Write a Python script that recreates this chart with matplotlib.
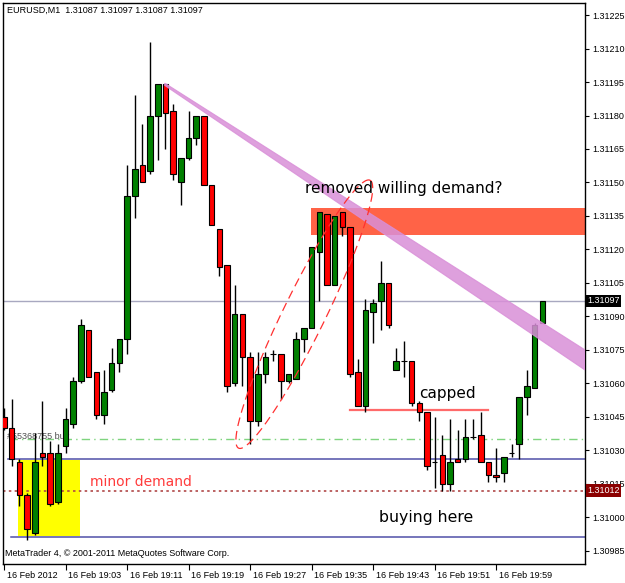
import matplotlib
matplotlib.use("Agg")
import matplotlib.pyplot as plt
import numpy as np
from matplotlib.patches import Rectangle, Polygon
from matplotlib.transforms import blended_transform_factory, ScaledTranslation

# ---------------- data ----------------
chart_title = "EURUSD,M1  1.31087 1.31097 1.31087 1.31097"
copyright_text = "MetaTrader 4, \u00a9 2001-2011 MetaQuotes Software Corp."

opens = [1.31045, 1.31040, 1.31025, 1.31010, 1.30993, 1.31029, 1.31029, 1.31007, 1.31032, 1.31042,
         1.31061, 1.31084, 1.31065, 1.31046, 1.31057, 1.31069, 1.31080, 1.31144, 1.31158, 1.31155,
         1.31180, 1.31194, 1.31182, 1.31150, 1.31161, 1.31170, 1.31180, 1.31149, 1.31129, 1.31113,
         1.31060, 1.31091, 1.31072, 1.31043, 1.31064, 1.31073, 1.31073, 1.31061, 1.31062, 1.31080,
         1.31085, 1.31119, 1.31136, 1.31104, 1.31137, 1.31130, 1.31065, 1.31050, 1.31092, 1.31097,
         1.31105, 1.31066, 1.31070, 1.31070, 1.31051, 1.31047, 1.31025, 1.31028, 1.31015, 1.31026,
         1.31026, 1.31036, 1.31037, 1.31025, 1.31019, 1.31020, 1.31029, 1.31033, 1.31054, 1.31058,
         1.31087]
highs = [1.31049, 1.31053, 1.31026, 1.31011, 1.31038, 1.31052, 1.31034, 1.31033, 1.31049, 1.31063,
         1.31089, 1.31084, 1.31065, 1.31066, 1.31076, 1.31080, 1.31158, 1.31189, 1.31176, 1.31213,
         1.31194, 1.31194, 1.31185, 1.31161, 1.31182, 1.31180, 1.31180, 1.31149, 1.31129, 1.31113,
         1.31104, 1.31091, 1.31074, 1.31074, 1.31074, 1.31075, 1.31073, 1.31064, 1.31083, 1.31085,
         1.31121, 1.31137, 1.31136, 1.31135, 1.31137, 1.31130, 1.31071, 1.31098, 1.31098, 1.31115,
         1.31105, 1.31076, 1.31079, 1.31070, 1.31052, 1.31047, 1.31045, 1.31037, 1.31044, 1.31039,
         1.31044, 1.31044, 1.31047, 1.31025, 1.31031, 1.31027, 1.31033, 1.31054, 1.31066, 1.31087,
         1.31097]
lows = [1.31039, 1.31023, 1.31005, 1.30990, 1.30992, 1.31023, 1.31005, 1.31006, 1.31029, 1.31040,
        1.31060, 1.31063, 1.31044, 1.31042, 1.31056, 1.31065, 1.31073, 1.31134, 1.31150, 1.31154,
        1.31160, 1.31165, 1.31151, 1.31140, 1.31160, 1.31167, 1.31149, 1.31131, 1.31108, 1.31056,
        1.31059, 1.31059, 1.31033, 1.31041, 1.31060, 1.31070, 1.31053, 1.31060, 1.31062, 1.31074,
        1.31085, 1.31097, 1.31104, 1.31104, 1.31126, 1.31063, 1.31050, 1.31047, 1.31078, 1.31084,
        1.31085, 1.31066, 1.31063, 1.31050, 1.31043, 1.31021, 1.31013, 1.31012, 1.31012, 1.31025,
        1.31025, 1.31035, 1.31025, 1.31016, 1.31016, 1.31016, 1.31027, 1.31026, 1.31046, 1.31058,
        1.31087]
closes = [1.31040, 1.31026, 1.31010, 1.30995, 1.31025, 1.31027, 1.31006, 1.31029, 1.31044, 1.31061,
          1.31086, 1.31063, 1.31046, 1.31056, 1.31069, 1.31080, 1.31144, 1.31156, 1.31150, 1.31180,
          1.31194, 1.31181, 1.31154, 1.31161, 1.31170, 1.31180, 1.31149, 1.31131, 1.31112, 1.31059,
          1.31091, 1.31072, 1.31043, 1.31064, 1.31072, 1.31073, 1.31061, 1.31064, 1.31080, 1.31085,
          1.31121, 1.31137, 1.31104, 1.31135, 1.31130, 1.31064, 1.31050, 1.31093, 1.31096, 1.31105,
          1.31086, 1.31070, 1.31070, 1.31051, 1.31047, 1.31023, 1.31025, 1.31015, 1.31025, 1.31025,
          1.31036, 1.31036, 1.31025, 1.31019, 1.31018, 1.31027, 1.31029, 1.31054, 1.31059, 1.31086,
          1.31097]

time_tick_bars = [0, 8, 16, 24, 32, 40, 48, 56, 64]
time_tick_labels = ["16 Feb 2012", "16 Feb 19:03", "16 Feb 19:11", "16 Feb 19:19", "16 Feb 19:27",
                    "16 Feb 19:35", "16 Feb 19:43", "16 Feb 19:51", "16 Feb 19:59"]
price_ticks = [1.30985, 1.31000, 1.31015, 1.31030, 1.31045, 1.31060, 1.31075, 1.31090, 1.31105,
               1.31120, 1.31135, 1.31150, 1.31165, 1.31180, 1.31195, 1.31210, 1.31225]

bid_price = 1.31097
pending_price = 1.31012
order_price = 1.31035
order_label = "#55368755 buy"
support_upper = 1.31026
support_lower = 1.30991
capped_price = 1.31048
capped_bars = (45.0, 62.9)
supply_zone = (1.311265, 1.311386)
supply_start_bar = 39.9
demand_box_bars = (1.82, 9.88)
demand_box_prices = (1.309917, 1.310259)
trend_start = (20.9, 1.311945, 1.311935)
trend_end = (75.55, 1.310750, 1.310660)
ellipse_ends = ((30.5, 1.31031), (47.6, 1.31151))

notes = [
    ("removed willing demand?", 52.0, 1.311475, "black", 11),
    ("capped", 57.7, 1.310553, "black", 11),
    ("minor demand", 17.8, 1.310159, "#ff3b3b", 10),
    ("buying here", 54.9, 1.309998, "black", 11.3),
]

# ---------------- figure ----------------
W, H, DPI = 625, 583, 100
fig = plt.figure(figsize=(W / DPI, H / DPI), dpi=DPI, facecolor="white")
L, R, T, B = 3, 585, 3, 564
ax = fig.add_axes([L / W, 1 - B / H, (R - L) / W, (B - T) / H])
ax.set_facecolor("white")
ax.set_xlim(-0.13, 75.55)
ax.set_ylim(1.309791, 1.312304)

# horizontal lines
ax.axhline(bid_price, color="#a8a8c0", lw=1.0, zorder=1)
ax.axhline(pending_price, color="#b04848", lw=1.2, ls=(0, (1.5, 2.0)), zorder=1)
ax.plot([0.6, 75.55], [order_price, order_price], color="#7fd47f", lw=1.0,
        ls=(0, (6, 3, 1, 3)), zorder=1)
ax.plot([0.5, 75.55], [support_upper, support_upper], color="#5050a8", lw=1.1, zorder=1)
ax.plot([0.9, 75.55], [support_lower, support_lower], color="#5050a8", lw=1.1, zorder=1)

# zones
ax.add_patch(Rectangle((demand_box_bars[0], demand_box_prices[0]),
                       demand_box_bars[1] - demand_box_bars[0],
                       demand_box_prices[1] - demand_box_prices[0],
                       facecolor="#ffff00", edgecolor="none", zorder=0.5))
ax.add_patch(Rectangle((supply_start_bar, supply_zone[0]), 80, supply_zone[1] - supply_zone[0],
                       facecolor="#ff6347", edgecolor="none", zorder=0.5))

# order label
ax.text(0.007, order_price + 0.0000125, order_label,
        transform=blended_transform_factory(ax.transAxes, ax.transData),
        ha="left", va="center", color="#505050", zorder=1.5,
        fontfamily="Liberation Sans", fontsize=6.5)

# capped line
ax.plot(capped_bars, [capped_price, capped_price], color="#ff6a6a", lw=1.6, zorder=1.2)

# candles
x = np.arange(len(opens))
o = np.array(opens); c = np.array(closes); h = np.array(highs); lo = np.array(lows)
ax.vlines(x, lo, h, color="black", lw=1.0, zorder=2)
up = c >= o
bw = 0.72
ax.bar(x[up], c[up] - o[up], bottom=o[up], width=bw, color="#008000", edgecolor="black", lw=0.8, zorder=3)
ax.bar(x[~up], o[~up] - c[~up], bottom=c[~up], width=bw, color="#ff0000", edgecolor="black", lw=0.8, zorder=3)

# purple trend band
poly = Polygon([(trend_start[0], trend_start[1]), (trend_end[0], trend_end[1]),
                (trend_end[0], trend_end[2]), (trend_start[0], trend_start[2])],
               closed=True, facecolor="#d98fd8", edgecolor="#d98fd8", lw=0.8, alpha=0.85, zorder=4)
ax.add_patch(poly)

# dashed ellipse (computed in display space so it keeps its shape)
fig.canvas.draw()
p1 = ax.transData.transform(ellipse_ends[0])
p2 = ax.transData.transform(ellipse_ends[1])
ctr = (p1 + p2) / 2
vec = p2 - p1
a = np.linalg.norm(vec) / 2
bminor = 21.0
ang = np.arctan2(vec[1], vec[0])
t = np.linspace(0, 2 * np.pi, 300)
ex = a * np.cos(t); ey = bminor * np.sin(t)
px = ctr[0] + ex * np.cos(ang) - ey * np.sin(ang)
py = ctr[1] + ex * np.sin(ang) + ey * np.cos(ang)
dat = ax.transData.inverted().transform(np.column_stack([px, py]))
ax.plot(dat[:, 0], dat[:, 1], color="#ff3030", lw=0.9, ls=(0, (7, 4)), zorder=5)

# annotations
for txt, bx, py_, col, fs in notes:
    ax.text(bx, py_, txt, ha="center", va="center", color=col, fontsize=fs,
            fontfamily="DejaVu Sans", zorder=6)

# title and copyright
ax.text(0.007, 0.9875, chart_title, transform=ax.transAxes, ha="left", va="center",
        color="black", zorder=6, fontfamily="Liberation Sans", fontsize=6.5)
ax.text(0.004, 0.019, copyright_text, transform=ax.transAxes, ha="left", va="center",
        color="black", zorder=6, fontfamily="Liberation Sans", fontsize=6.5)

# axes styling
for s in ax.spines.values():
    s.set_color("black"); s.set_linewidth(1.0)
ax.yaxis.tick_right()
ax.set_yticks(price_ticks)
ax.set_yticklabels([f"{p:.5f}" for p in price_ticks], fontfamily="Liberation Sans", fontsize=6.5)
ax.tick_params(axis="y", length=3, width=0.8, pad=2, color="black")
ax.set_xticks(time_tick_bars)
ax.set_xticklabels(time_tick_labels, fontfamily="Liberation Sans", fontsize=6.5, ha="left")
ax.tick_params(axis="x", length=4, width=0.8, pad=1, color="black")
off = ScaledTranslation(2 / 72, 0, fig.dpi_scale_trans)
for lbl in ax.get_xticklabels():
    lbl.set_transform(lbl.get_transform() + off)

# price highlight boxes
bt = blended_transform_factory(ax.transAxes, ax.transData)
ax.text(1.004, bid_price, f"{bid_price:.5f}", transform=bt, ha="left", va="center", color="white",
        fontfamily="Liberation Sans", fontsize=6.5, zorder=7, clip_on=False,
        bbox=dict(facecolor="black", edgecolor="none", pad=1.2))
ax.text(1.004, pending_price, f"{pending_price:.5f}", transform=bt, ha="left", va="center", color="white",
        fontfamily="Liberation Sans", fontsize=6.5, zorder=7, clip_on=False,
        bbox=dict(facecolor="#8b0000", edgecolor="none", pad=1.2))

fig.savefig("out.png", dpi=DPI, facecolor="white")
